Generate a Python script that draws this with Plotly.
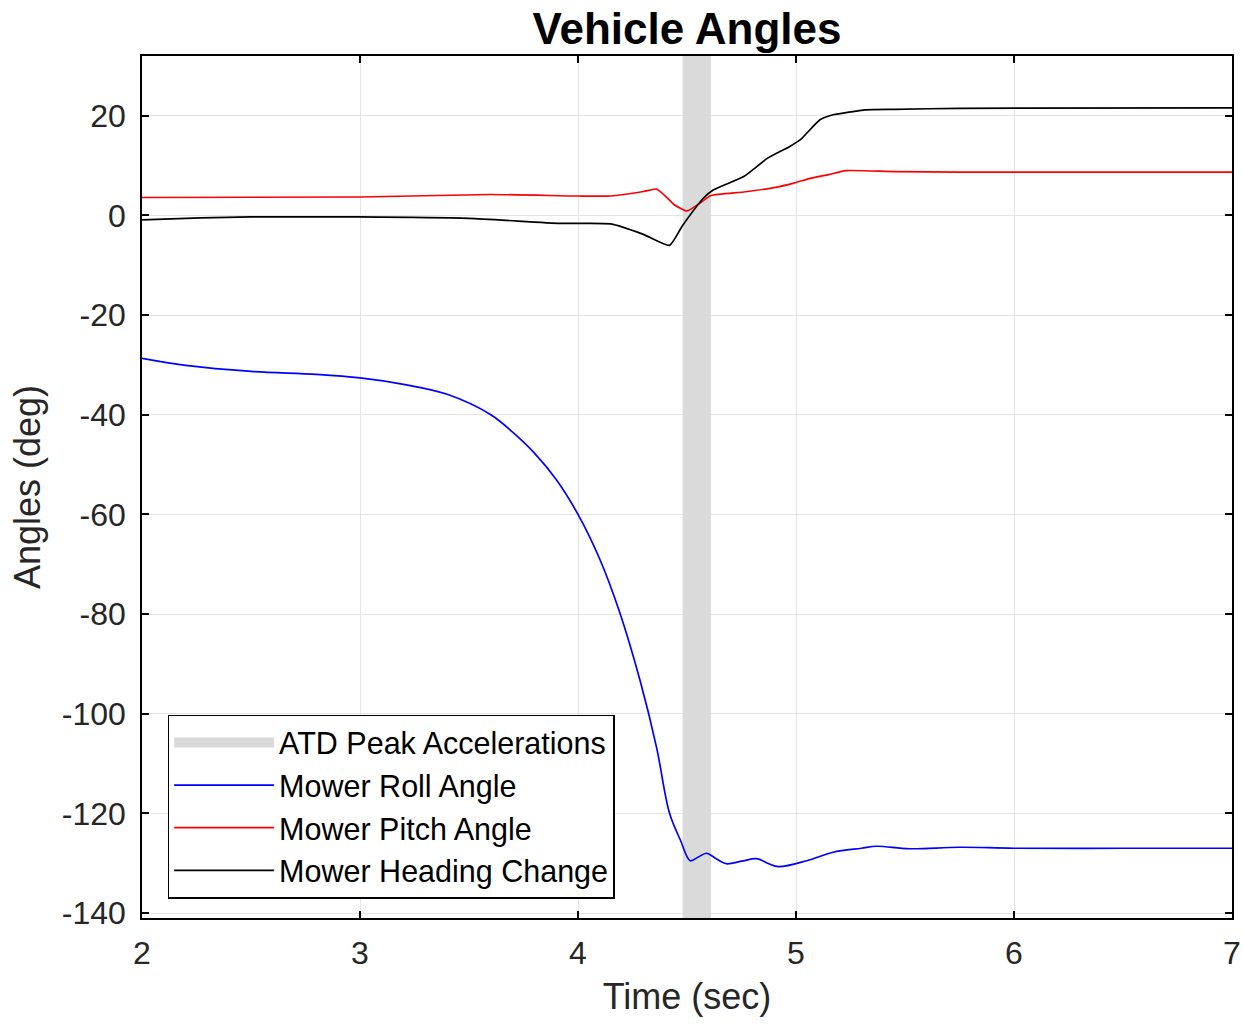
import plotly.graph_objects as go

# ---- data ----
roll_t = [2.0, 2.2, 2.5, 2.8, 3.0, 3.2, 3.4, 3.6, 3.7, 3.8, 3.9, 4.0, 4.1, 4.19, 4.285,
          4.36, 4.42, 4.47, 4.515, 4.55, 4.59, 4.63, 4.68, 4.75, 4.82, 4.87, 4.92, 5.05, 5.17, 5.3, 5.37, 5.52,
          5.75, 6.0, 6.5, 7.0]
roll_v = [-28.7, -30.1, -31.3, -31.9, -32.6, -33.9, -35.9, -40.0, -43.5, -47.7, -53.0, -60.0,
          -69.0, -79.5, -93.4, -106.7, -120.0, -125.4, -129.5, -128.8, -128.0, -129.0, -130.1, -129.6, -129.1,
          -130.0, -130.7, -129.5, -127.8, -127.0, -126.6, -127.1, -126.8, -127.0, -127.0, -127.0]

pitch_t = [2.0, 3.0, 3.6, 4.0, 4.15, 4.3, 4.36, 4.41, 4.44, 4.5, 4.56, 4.61, 4.76, 4.9, 4.99, 5.07, 5.15, 5.23,
           5.45, 5.75, 6.5, 7.0]
pitch_v = [3.6, 3.7, 4.2, 3.9, 3.9, 4.8, 5.3, 3.5, 2.2, 0.9, 2.5, 4.0, 4.7, 5.6, 6.5, 7.5, 8.2, 9.0,
           8.8, 8.7, 8.7, 8.7]

head_t = [2.0, 2.27, 2.5, 3.0, 3.5, 3.92, 4.15, 4.3, 4.42, 4.48, 4.576, 4.62, 4.76, 4.87, 4.97, 5.02, 5.11,
          5.17, 5.32, 5.45, 5.75, 7.0]
head_v = [-0.9, -0.5, -0.3, -0.3, -0.6, -1.6, -1.7, -3.8, -6.0, -2.0, 3.5, 5.1, 7.8, 11.5, 13.8, 15.2, 19.2,
          20.2, 21.2, 21.3, 21.5, 21.6]

band_t = [4.48, 4.61]          # ATD peak acceleration window (sec)
y_range = [-141, 32]
x_range = [2, 7]
x_ticks = [2, 3, 4, 5, 6, 7]
y_ticks = [20, 0, -20, -40, -60, -80, -100, -120, -140]

FONT = "Liberation Sans, Arial, sans-serif"
TXT = "#262626"
BAND = "rgb(218,218,218)"

fig = go.Figure()

# band (drawn from data, legend handled by a dedicated entry)
fig.add_trace(go.Scatter(
    x=[band_t[0], band_t[1], band_t[1], band_t[0], band_t[0]],
    y=[y_range[0], y_range[0], y_range[1], y_range[1], y_range[0]],
    fill="toself", fillcolor=BAND, line=dict(width=0, color=BAND),
    mode="lines", showlegend=False, hoverinfo="skip"))
# legend entry for the band (single point -> draws nothing on the plot)
fig.add_trace(go.Scatter(x=[band_t[0]], y=[y_range[0]], mode="lines", name="ATD Peak Accelerations",
                         line=dict(color=BAND, width=30), hoverinfo="skip"))

fig.add_trace(go.Scatter(x=roll_t, y=roll_v, mode="lines", name="Mower Roll Angle",
                         line=dict(color="#0000ff", width=1.7, shape="spline", smoothing=1.0)))
fig.add_trace(go.Scatter(x=pitch_t, y=pitch_v, mode="lines", name="Mower Pitch Angle",
                         line=dict(color="#ff0000", width=1.7, shape="spline", smoothing=0.5)))
fig.add_trace(go.Scatter(x=head_t, y=head_v, mode="lines", name="Mower Heading Change",
                         line=dict(color="#000000", width=1.7, shape="spline", smoothing=0.5)))

axis_common = dict(
    showline=True, linecolor="black", linewidth=1.5, mirror="ticks",
    ticks="inside", ticklen=7, tickwidth=1.5, tickcolor="black",
    showgrid=True, gridcolor="rgb(228,228,228)", gridwidth=1,
    zeroline=False, automargin=False,
    tickfont=dict(family=FONT, size=32, color=TXT),
)

fig.update_xaxes(range=x_range, tickvals=x_ticks, ticktext=[str(v) for v in x_ticks],
                 ticklabelstandoff=6,
                 title=dict(text="Time (sec)", font=dict(family=FONT, size=36, color=TXT), standoff=14),
                 **axis_common)
fig.update_yaxes(range=y_range, tickvals=y_ticks, ticktext=[str(v) for v in y_ticks],
                 ticklabelstandoff=8,
                 title=dict(text="Angles (deg)", font=dict(family=FONT, size=36, color=TXT), standoff=10),
                 **axis_common)

fig.update_layout(
    width=1243, height=1024,
    margin=dict(l=142, r=11, t=56, b=106),
    paper_bgcolor="white", plot_bgcolor="white",
    title=dict(text="<b>Vehicle Angles</b>", xref="paper", x=0.5, xanchor="center",
               yref="container", y=0.987, yanchor="top",
               font=dict(family=FONT, size=44, color="black")),
    showlegend=True,
    legend=dict(x=0.0235, y=0.236, xanchor="left", yanchor="top",
                bgcolor="white", bordercolor="black", borderwidth=1.5,
                font=dict(family=FONT, size=30.5, color="black"),
                itemwidth=100, tracegroupgap=0, itemsizing="trace"),
)

fig.write_html("out.html")
